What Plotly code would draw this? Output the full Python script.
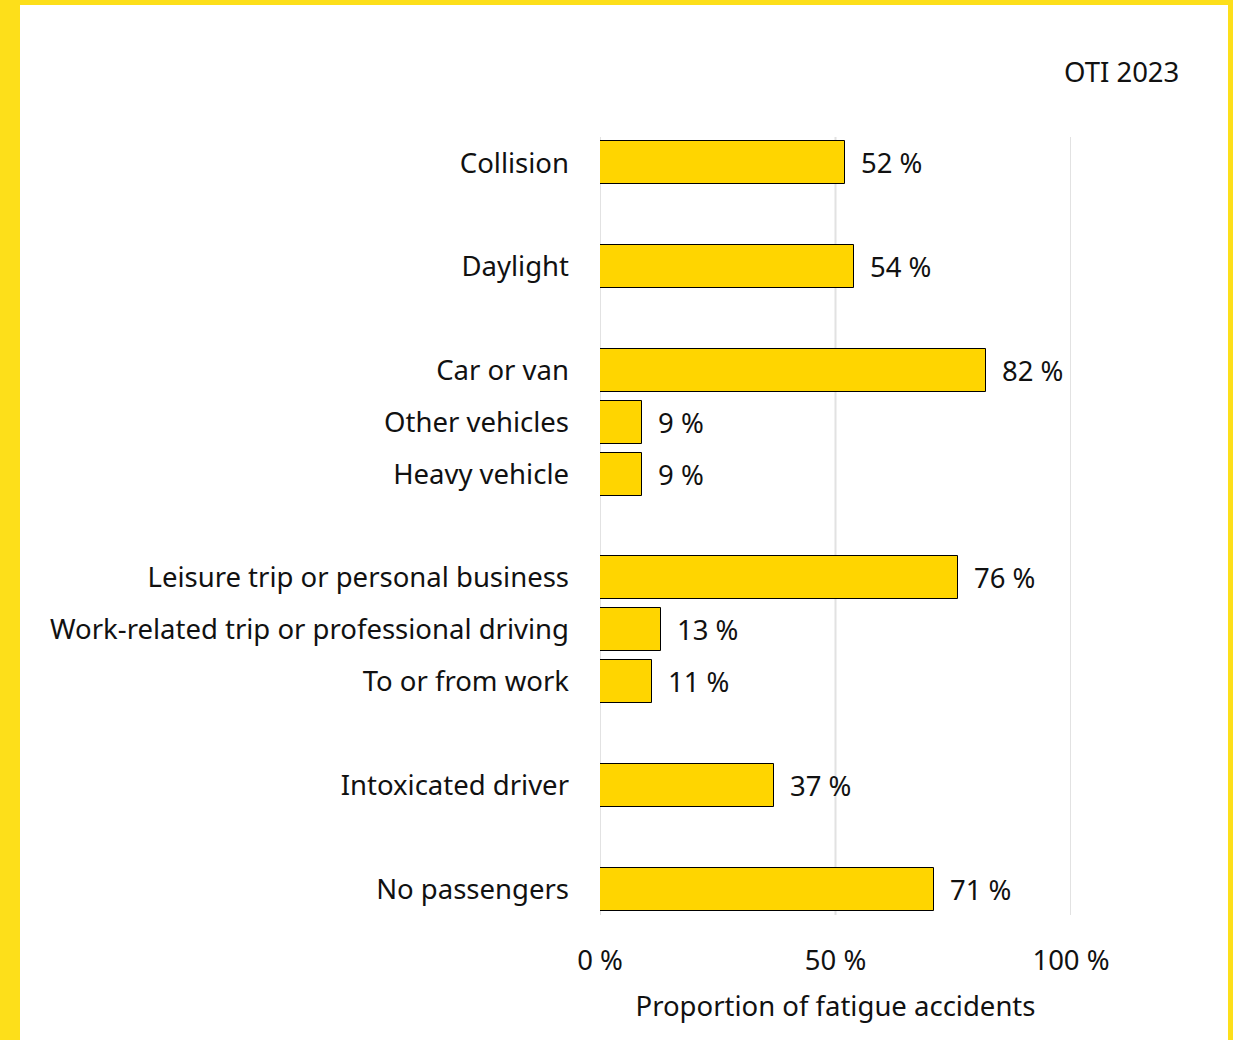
import plotly.graph_objects as go

groups = [
    ["Collision"],
    ["Daylight"],
    ["Car or van", "Other vehicles", "Heavy vehicle"],
    ["Leisure trip or personal business", "Work-related trip or professional driving", "To or from work"],
    ["Intoxicated driver"],
    ["No passengers"],
]
values = [
    [52],
    [54],
    [82, 9, 9],
    [76, 13, 11],
    [37],
    [71],
]
x_ticks = [0, 50, 100]
x_tick_labels = ["0 %", "50 %", "100 %"]

W, H = 1233, 1040
ML, MR, MT, MB = 600, 162, 137, 125
FONT = "Noto Sans"
FS = 27.5
BAR = "#FFD500"
BORDER = "#FDDF1A"
GRID = "#E2E2E2"

labels, vals, pos = [], [], []
p = 0
for g, vs in zip(groups, values):
    for lab, v in zip(g, vs):
        labels.append(lab)
        vals.append(v)
        pos.append(p)
        p += 1
    p += 1
last = pos[-1]

fig = go.Figure(go.Bar(
    x=vals, y=pos, orientation="h", width=0.83,
    marker=dict(color=BAR, line=dict(color="#000000", width=1)),
    hoverinfo="skip",
))

for v, y in zip(vals, pos):
    fig.add_annotation(x=v, y=y, text=f"{v} %", showarrow=False, xanchor="left",
                       xshift=14, font=dict(family=FONT, size=FS, color="#111111"))

pw, ph = W - ML - MR, H - MT - MB
def px_x(x):
    return (x - ML) / pw
def px_y(y):
    return 1 - (y - MT) / ph

fig.add_annotation(xref="paper", yref="paper", x=px_x(1181), y=px_y(72),
                   xanchor="right", yanchor="middle",
                   text="OTI 2023", showarrow=False,
                   font=dict(family=FONT, size=FS, color="#111111"))

shapes = [
    dict(type="rect", xref="paper", yref="paper", x0=px_x(0), x1=px_x(20), y0=px_y(H), y1=px_y(0),
         fillcolor=BORDER, line=dict(width=0), layer="below"),
    dict(type="rect", xref="paper", yref="paper", x0=px_x(0), x1=px_x(W), y0=px_y(5), y1=px_y(0),
         fillcolor=BORDER, line=dict(width=0), layer="below"),
    dict(type="rect", xref="paper", yref="paper", x0=px_x(1228), x1=px_x(W), y0=px_y(H), y1=px_y(0),
         fillcolor=BORDER, line=dict(width=0), layer="below"),
]
for t in x_ticks:
    shapes.append(dict(type="line", xref="x", yref="paper", x0=t, x1=t, y0=0, y1=1,
                       line=dict(color=GRID, width=2), layer="below"))

fig.update_layout(
    width=W, height=H,
    margin=dict(l=ML, r=MR, t=MT, b=MB),
    paper_bgcolor="white", plot_bgcolor="white",
    showlegend=False,
    shapes=shapes,
    bargap=0,
    xaxis=dict(range=[0, 100], tickvals=x_ticks, ticktext=x_tick_labels,
               showgrid=False, zeroline=False,
               showline=False, ticks="",
               tickfont=dict(family=FONT, size=FS, color="#111111"),
               ticklabelstandoff=26,
               title=dict(text="Proportion of fatigue accidents", standoff=20,
                          font=dict(family=FONT, size=FS, color="#111111"))),
    yaxis=dict(range=[last + 0.5, -0.5], tickvals=pos, ticktext=labels,
               showgrid=False, zeroline=False, showline=False, ticks="",
               ticklabelstandoff=30,
               tickfont=dict(family=FONT, size=FS, color="#111111")),
)

fig.write_html("out.html")
